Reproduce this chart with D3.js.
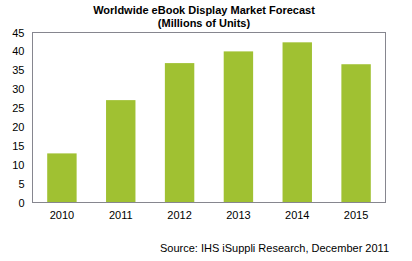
<html>
<script src="https://d3js.org/d3.v7.min.js"></script>
<style>
  body { margin: 0; background: #fff; }
  text { font-family: Arial, "Liberation Sans", sans-serif; }
</style>
<body>
<svg width="412" height="261"></svg>
<script>
var years = ["2010", "2011", "2012", "2013", "2014", "2015"];
var units = [13.0, 27.1, 36.9, 40.0, 42.4, 36.6];
var yTicks = [0, 5, 10, 15, 20, 25, 30, 35, 40, 45];

var svg = d3.select("svg");
var plotLeft = 32.5, plotRight = 385.5, plotTop = 32.5, plotBottom = 202.5;

var xScale = d3.scaleBand()
  .domain(years)
  .range([plotLeft, plotRight])
  .paddingInner(0.5)
  .paddingOuter(0.25);

var yScale = d3.scaleLinear()
  .domain([0, 45])
  .range([plotBottom, plotTop]);

// bars
svg.append("g")
  .selectAll("rect")
  .data(units)
  .enter().append("rect")
  .attr("x", function(d, i) { return xScale(years[i]); })
  .attr("y", function(d) { return yScale(d); })
  .attr("width", xScale.bandwidth())
  .attr("height", function(d) { return plotBottom - yScale(d); })
  .attr("fill", "#a0c132");

// frame
svg.append("rect")
  .attr("x", plotLeft).attr("y", plotTop)
  .attr("width", plotRight - plotLeft).attr("height", plotBottom - plotTop)
  .attr("fill", "none")
  .attr("stroke", "#86868f")
  .attr("stroke-width", 1);

// y axis labels
var yAxis = svg.append("g")
  .attr("transform", "translate(" + plotLeft + ",0)")
  .call(d3.axisLeft(yScale).tickValues(yTicks).tickSize(0).tickPadding(8));
yAxis.select(".domain").remove();
yAxis.selectAll("text").attr("font-size", "11px").attr("fill", "#000")
  .style("font-family", "Arial, 'Liberation Sans', sans-serif");

// x axis labels
var xAxis = svg.append("g")
  .attr("transform", "translate(0," + plotBottom + ")")
  .call(d3.axisBottom(xScale).tickSize(0).tickPadding(9));
xAxis.select(".domain").remove();
xAxis.selectAll("text").attr("font-size", "11px").attr("fill", "#000")
  .style("font-family", "Arial, 'Liberation Sans', sans-serif");

// title
svg.append("text")
  .attr("x", 204).attr("y", 14)
  .attr("text-anchor", "middle")
  .attr("font-size", "11px").attr("font-weight", "bold")
  .text("Worldwide eBook Display Market Forecast");
svg.append("text")
  .attr("x", 204).attr("y", 27)
  .attr("text-anchor", "middle")
  .attr("font-size", "11px").attr("font-weight", "bold")
  .text("(Millions of Units)");

// source
svg.append("text")
  .attr("x", 389).attr("y", 252)
  .attr("text-anchor", "end")
  .attr("font-size", "11px")
  .text("Source: IHS iSuppli Research, December 2011");
</script>
</body>
</html>
